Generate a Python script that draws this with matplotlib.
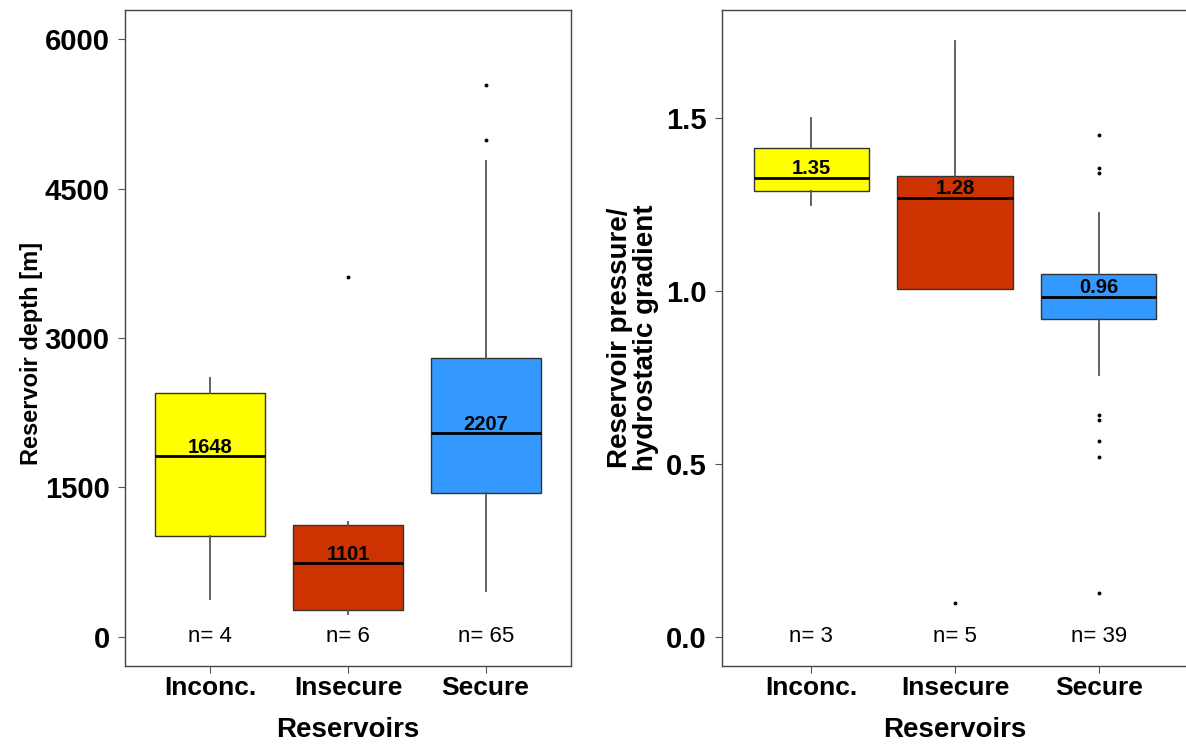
import numpy as np
import matplotlib.pyplot as plt

plt.rcParams['font.family'] = ['Liberation Sans', 'DejaVu Sans']

groups = ["Inconc.", "Insecure", "Secure"]
colors = ["#FFFF00", "#CC3300", "#3399FF"]

# reservoir depth [m]
depth_whislo = [383, 231, 463]
depth_q1 = [1007, 272, 1440]
depth_med = [1812, 735, 2044]
depth_q3 = [2446, 1117, 2799]
depth_whishi = [2597, 1148, 4782]
depth_fliers = [[], [3614], [4993, 5537]]
depth_mean = [1648, 1101, 2207]
depth_n = [4, 6, 65]

# reservoir pressure / hydrostatic gradient
pres_whislo = [1.249, 1.006, 0.757]
pres_q1 = [1.289, 1.006, 0.919]
pres_med = [1.327, 1.269, 0.983]
pres_q3 = [1.413, 1.332, 1.049]
pres_whishi = [1.500, 1.723, 1.225]
pres_fliers = [[], [0.098], [1.451, 1.355, 1.341, 0.642, 0.627, 0.566, 0.520, 0.127]]
pres_mean = ["1.35", "1.28", "0.96"]
pres_n = [3, 5, 39]


def draw_boxes(ax, whislo, q1, med, q3, whishi, fliers, labels, ns):
    stats = []
    for i in range(len(groups)):
        stats.append(dict(whislo=whislo[i], q1=q1[i], med=med[i], q3=q3[i],
                          whishi=whishi[i], fliers=fliers[i]))
    bp = ax.bxp(stats, positions=[1, 2, 3], widths=0.8, patch_artist=True,
                showcaps=False,
                boxprops=dict(edgecolor="#333333", linewidth=1.0),
                whiskerprops=dict(color="#555555", linewidth=1.3),
                medianprops=dict(color="black", linewidth=2.0),
                flierprops=dict(marker="o", markersize=2.8, markerfacecolor="black",
                                markeredgewidth=0))
    for patch, c in zip(bp["boxes"], colors):
        patch.set_facecolor(c)
    for i in range(len(groups)):
        ax.annotate(str(labels[i]), (i + 1, med[i]), xytext=(0, 2.5),
                    textcoords="offset points", ha="center", va="baseline",
                    fontsize=14.5, fontweight="bold")
        ax.text(i + 1, 0, "n= %d" % ns[i], ha="center", va="center", fontsize=16)
    ax.set_xlim(0.38, 3.62)
    ax.set_xticks([1, 2, 3])
    ax.set_xticklabels(groups, fontsize=19, fontweight="bold")
    ax.set_xlabel("Reservoirs", fontsize=20, fontweight="bold", va="center")
    ax.xaxis.set_label_coords(0.5, -0.097)
    ax.tick_params(axis="both", direction="out", length=5, color="#555555")
    ax.tick_params(axis="x", pad=2)
    ax.tick_params(axis="y", pad=6)
    for lab in ax.get_yticklabels():
        lab.set_fontsize(21)
        lab.set_fontweight("bold")
    for sp in ax.spines.values():
        sp.set_color("#444444")
        sp.set_linewidth(1.0)


fig = plt.figure(figsize=(11.86, 7.44), dpi=100)

ax1 = fig.add_axes([125 / 1186, 78 / 744, 446 / 1186, 656 / 744])
ax1.set_ylim(-295, 6295)
ax1.set_yticks([0, 1500, 3000, 4500, 6000])
draw_boxes(ax1, depth_whislo, depth_q1, depth_med, depth_q3, depth_whishi,
           depth_fliers, depth_mean, depth_n)
ax1.set_ylabel("Reservoir depth [m]", fontsize=17, fontweight="bold",
               va="center")
ax1.yaxis.set_label_coords(-0.21, 0.477)

ax2 = fig.add_axes([722 / 1186, 78 / 744, 466 / 1186, 656 / 744])
ax2.set_ylim(-0.084, 1.812)
ax2.set_yticks([0.0, 0.5, 1.0, 1.5])
ax2.set_yticklabels(["0.0", "0.5", "1.0", "1.5"])
draw_boxes(ax2, pres_whislo, pres_q1, pres_med, pres_q3, pres_whishi,
           pres_fliers, pres_mean, pres_n)
ax2.set_ylabel("Reservoir pressure/\nhydrostatic gradient", fontsize=20,
               fontweight="bold", linespacing=1.0, va="center")
ax2.yaxis.set_label_coords(-0.191, 0.5)

fig.savefig("out.png", dpi=100)
